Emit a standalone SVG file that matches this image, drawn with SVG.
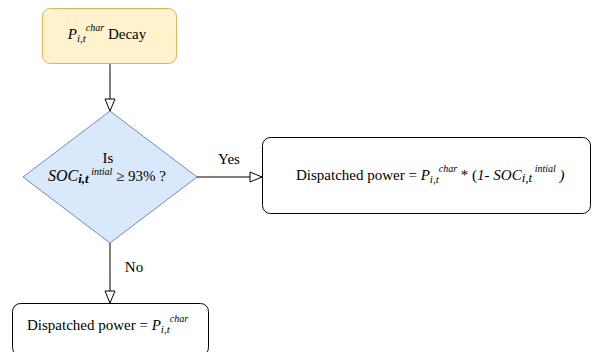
<svg xmlns="http://www.w3.org/2000/svg" width="593" height="352" viewBox="0 0 593 352">
  <defs>
    <marker id="openArrow" viewBox="0 0 14 12" refX="13" refY="6" markerWidth="14" markerHeight="12" markerUnits="userSpaceOnUse" orient="auto">
      <path d="M1,1 L13,6 L1,11 Z" fill="#ffffff" stroke="#000000" stroke-width="1"/>
    </marker>
  </defs>
  <style>
    .lbl { font-size: 15px; fill: #000000; }
    .it { font-style: italic; }
    .sup { font-size: 10px; font-style: italic; }
    .sub { font-size: 11px; font-style: italic; }
    .box { fill: #ffffff; stroke: #000000; stroke-width: 1; }
    .edge { fill: none; stroke: #000000; stroke-width: 1; marker-end: url(#openArrow); }
  </style>
  <rect width="593" height="352" fill="#ffffff"/>

  <g font-family="'Liberation Serif', 'DejaVu Serif', 'Times New Roman', serif">
  <g id="connectors">
    <path class="edge" d="M110,63 L110,111"/>
    <path class="edge" d="M197,177 L262,177"/>
    <text class="lbl" x="229" y="164" text-anchor="middle" font-size="13">Yes</text>
    <path class="edge" d="M110,243 L110,303"/>
    <text class="lbl" x="134" y="272" text-anchor="middle" font-size="13">No</text>
  </g>

  <g id="decay">
    <rect x="42.5" y="8.5" width="134" height="55" rx="8" fill="#fff2cc" stroke="#d6b656"/>
    <text class="lbl" x="107" y="39" text-anchor="middle"><tspan class="it">P</tspan><tspan class="sub" dy="3">i,t</tspan><tspan class="sup" dy="-11">char</tspan><tspan dy="8"> Decay</tspan></text>
  </g>

  <g id="check">
    <path d="M110,111 L197,177 L110,243 L23,177 Z" fill="#dae8fc" stroke="#6c8ebf"/>
    <text class="lbl" x="108" y="163" text-anchor="middle">Is</text>
    <text class="lbl" x="107" y="181" text-anchor="middle"><tspan class="it" font-size="16">SOC</tspan><tspan class="it" font-size="13" font-weight="bold" dy="2">i,t</tspan><tspan class="sup" dy="-8"> intial</tspan><tspan dy="6"> ≥ 93% ?</tspan></text>
  </g>

  <g id="dispatch-scaled">
    <rect class="box" x="262.5" y="137.5" width="328" height="76" rx="8"/>
    <text class="lbl" x="296" y="180"><tspan>Dispatched power = </tspan><tspan class="it">P</tspan><tspan class="sub" dy="3">i,t</tspan><tspan class="sup" dy="-11">char</tspan><tspan dy="8"> * (</tspan><tspan class="it">1- SOC</tspan><tspan class="it" font-size="13" dy="2">i,t</tspan><tspan class="sup" dy="-10"> intial</tspan><tspan class="it" dy="8">  )</tspan></text>
  </g>

  <g id="dispatch-full">
    <rect class="box" x="12.5" y="303.5" width="196" height="52" rx="8"/>
    <text class="lbl" x="27" y="330"><tspan>Dispatched power = </tspan><tspan class="it">P</tspan><tspan class="sub" dy="3">i,t</tspan><tspan class="sup" dy="-11">char</tspan></text>
  </g>
  </g>
</svg>
